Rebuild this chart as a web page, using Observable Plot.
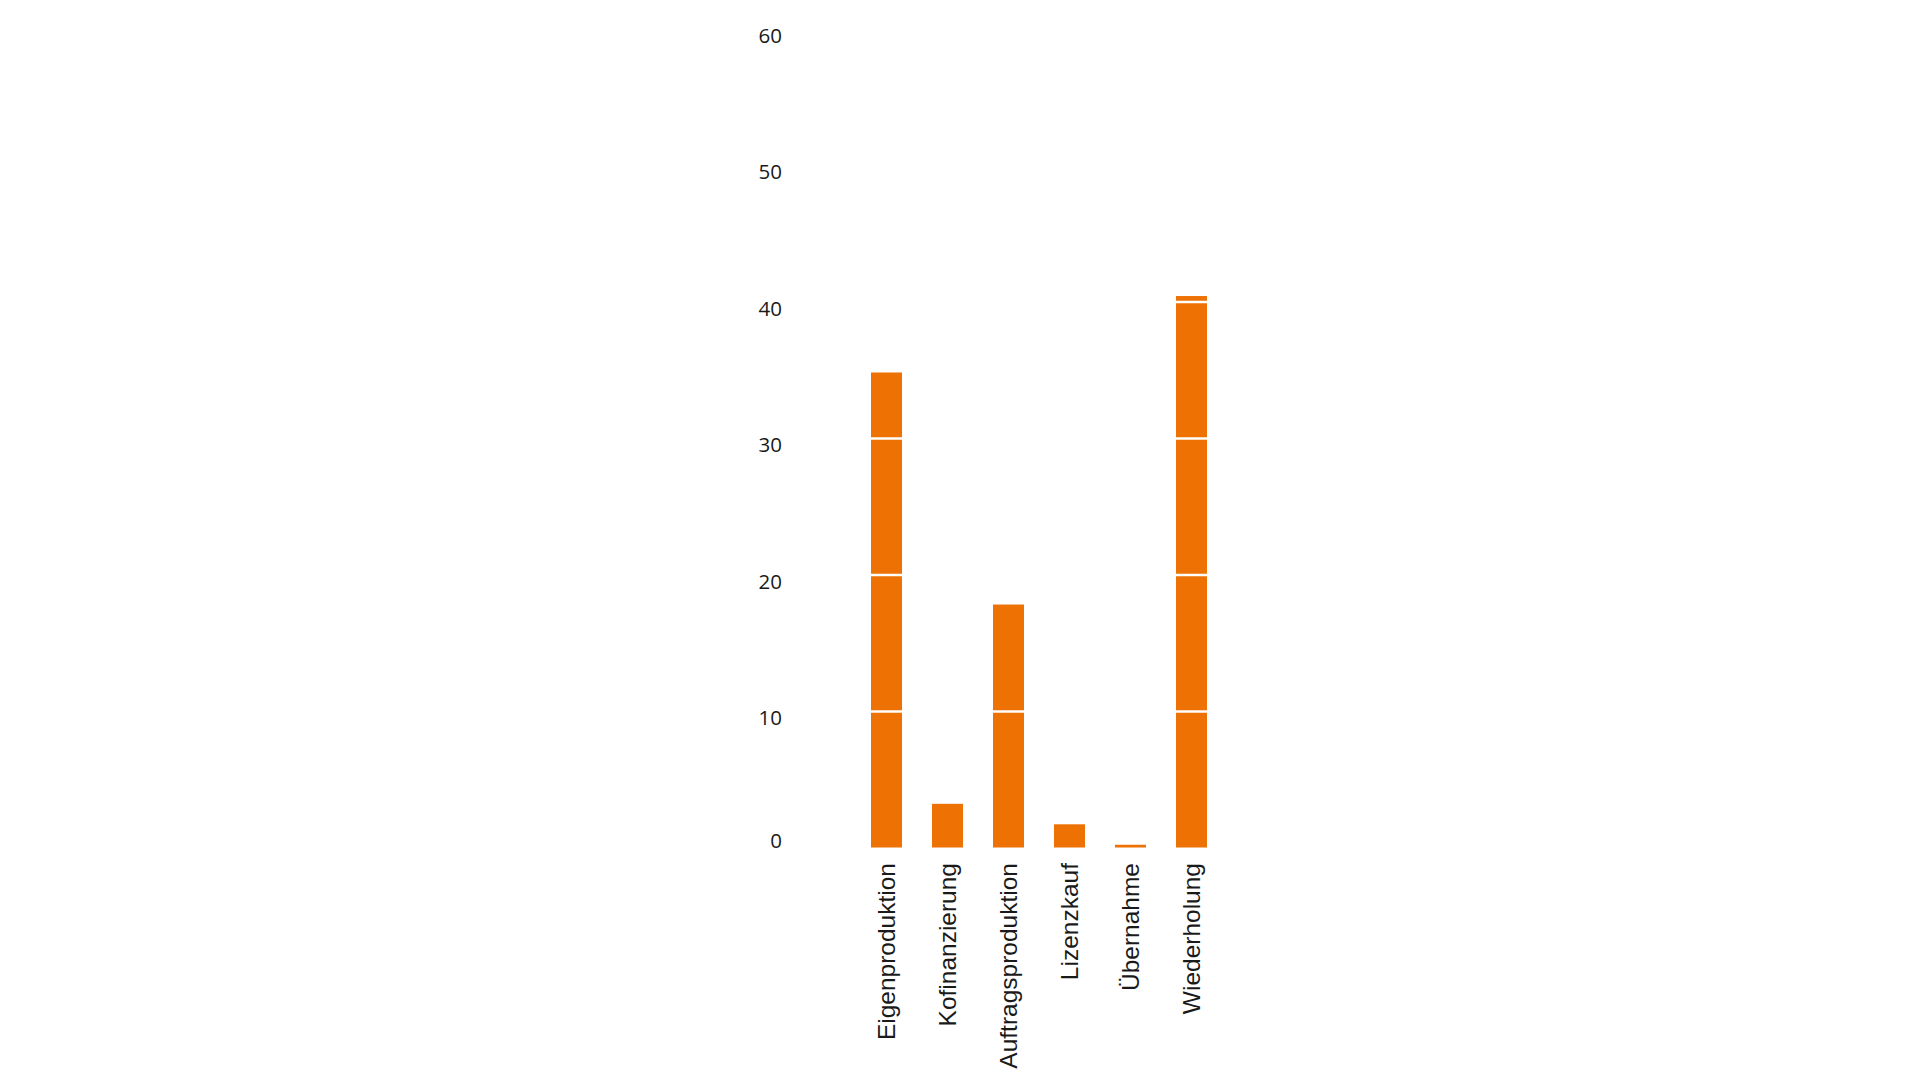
<!DOCTYPE html>
<html>
<head>
<meta charset="utf-8">
<script src="https://cdn.jsdelivr.net/npm/d3@7"></script>
<script src="https://cdn.jsdelivr.net/npm/@observablehq/plot@0.6"></script>
<style>
  html, body { margin: 0; padding: 0; background: #ffffff; }
  #chart svg { display: block; }
</style>
</head>
<body>
<div id="chart"></div>
<script>
const categories = ["Eigenproduktion", "Kofinanzierung", "Auftragsproduktion", "Lizenzkauf", "Übernahme", "Wiederholung"];
const values = [34.8, 3.2, 17.8, 1.7, 0.2, 40.4];
const yTicks = [0, 10, 20, 30, 40, 50, 60];

const data = categories.map((c, i) => ({category: c, value: values[i]}));

const chart = Plot.plot({
  width: 1920,
  height: 1080,
  marginLeft: 838.5,
  marginRight: 680.5,
  marginTop: 28.5,
  marginBottom: 232.5,
  style: {background: "#ffffff", color: "#1a1a1a", overflow: "visible"},
  x: {domain: categories, padding: 0.5, label: null},
  y: {domain: [0, 60], label: null},
  marks: [
    Plot.barY(data, {x: "category", y: "value", fill: "#ed7203"}),
    Plot.ruleY(yTicks.filter(d => d > 0), {stroke: "#ffffff", strokeWidth: 2.7}),
    Plot.axisY(yTicks.filter(d => d > 0), {
      tickSize: 0, tickPadding: 57, fontSize: 20.5, fontFamily: "Open Sans", dy: 7, label: null
    }),
    Plot.axisY([0], {
      tickSize: 0, tickPadding: 57, fontSize: 20.5, fontFamily: "Open Sans", dy: -7, label: null
    }),
    Plot.axisX({
      tickSize: 0, tickPadding: 15, tickRotate: -90, fontSize: 24.5,
      fontFamily: "Liberation Sans", label: null
    })
  ]
});

document.getElementById("chart").appendChild(chart);
</script>
</body>
</html>
